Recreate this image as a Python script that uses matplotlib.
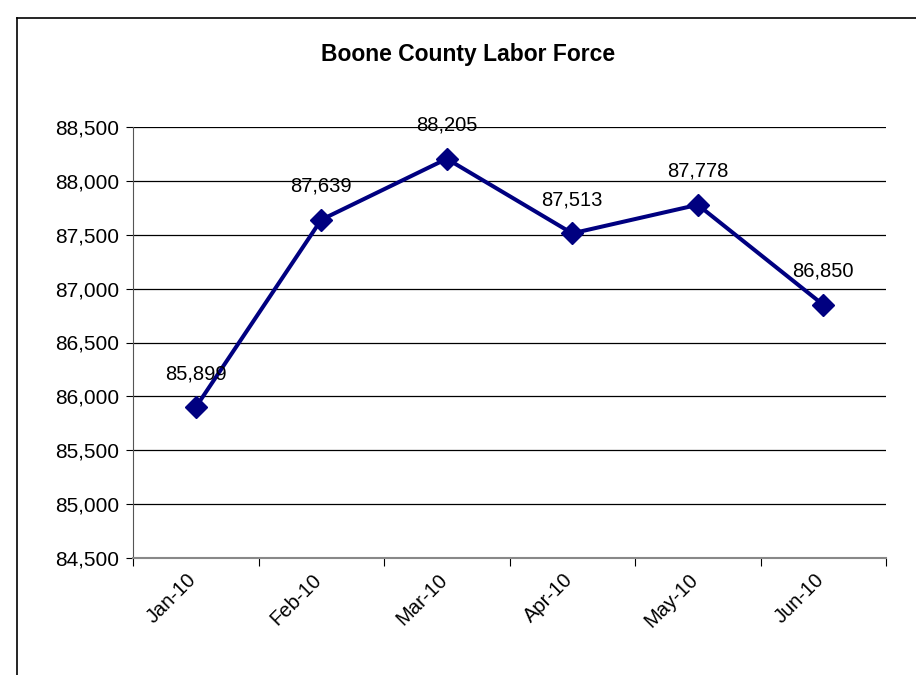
import matplotlib.pyplot as plt
from matplotlib.lines import Line2D
from matplotlib.ticker import FuncFormatter, MultipleLocator
from matplotlib.transforms import ScaledTranslation

plt.rcParams['font.family'] = ['Liberation Sans', 'DejaVu Sans']

months = ['Jan-10', 'Feb-10', 'Mar-10', 'Apr-10', 'May-10', 'Jun-10']
labor_force = [85899, 87639, 88205, 87513, 87778, 86850]

fig = plt.figure(figsize=(9.16, 6.75), dpi=100)
ax = fig.add_axes([133 / 916, 117 / 675, 753 / 916, 431 / 675])

# outer chart border (Excel style)
fig.add_artist(Line2D([17 / 916, 1.0], [1 - 18 / 675, 1 - 18 / 675], color='black', lw=1.2))
fig.add_artist(Line2D([17 / 916, 17 / 916], [0.0, 1 - 18 / 675], color='black', lw=1.2))

x = list(range(len(months)))
ax.plot(x, labor_force, color='#000080', lw=2.9, marker='D', markersize=11, zorder=3)

for xi, v in zip(x, labor_force):
    ax.annotate(f'{v:,}', (xi, v), xytext=(0, 24), textcoords='offset points',
                ha='center', va='center', fontsize=14.5)

ax.set_xlim(-0.5, len(months) - 0.5)
ax.set_ylim(84500, 88500)
ax.yaxis.set_major_locator(MultipleLocator(500))
ax.yaxis.set_major_formatter(FuncFormatter(lambda v, p: f'{int(v):,}'))
ax.grid(axis='y', color='black', lw=0.9)
ax.set_axisbelow(True)

# ticks at category boundaries, labels at centres
ax.set_xticks([i - 0.5 for i in range(len(months) + 1)])
ax.set_xticklabels([])
ax.tick_params(axis='x', which='major', length=6, direction='out', color='black')
lab_trans = ax.get_xaxis_transform() + ScaledTranslation(-0.09, -0.12, fig.dpi_scale_trans)
for xi, m in zip(x, months):
    ax.text(xi, 0, m, transform=lab_trans, rotation=45, ha='right', va='top',
            rotation_mode='anchor', fontsize=14.5)
ax.tick_params(axis='y', length=5, direction='out', labelsize=15, pad=5)

for side in ['top', 'right']:
    ax.spines[side].set_visible(False)
ax.spines['left'].set_color('#555555')
ax.spines['bottom'].set_color('#888888')
ax.spines['bottom'].set_linewidth(1.5)

fig.text(468 / 916, 1 - 55 / 675, 'Boone County Labor Force',
         ha='center', va='center', fontsize=16.5, fontweight='bold')

fig.savefig('out.png', dpi=100)
